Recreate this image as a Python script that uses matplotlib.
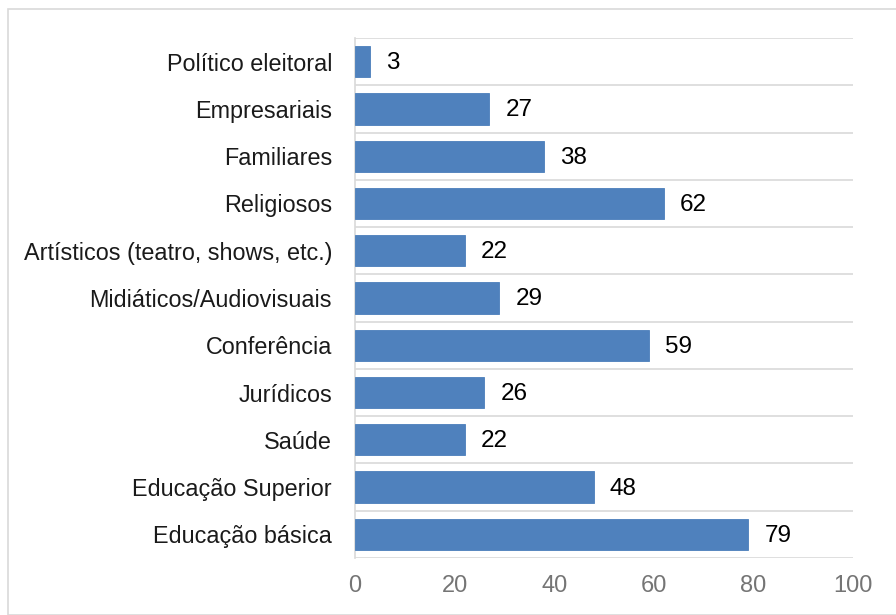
import matplotlib.pyplot as plt
from matplotlib.patches import Rectangle

categories = ['Político eleitoral', 'Empresariais', 'Familiares', 'Religiosos',
              'Artísticos (teatro, shows, etc.)', 'Midiáticos/Audiovisuais',
              'Conferência', 'Jurídicos', 'Saúde', 'Educação Superior',
              'Educação básica']
values = [3, 27, 38, 62, 22, 29, 59, 26, 22, 48, 79]
xticks = [0, 20, 40, 60, 80, 100]

plt.rcParams['font.family'] = ['Liberation Sans', 'DejaVu Sans']

fig = plt.figure(figsize=(8.96, 6.15), dpi=100)
ax = fig.add_axes([355 / 896, 1 - 558 / 615, (853 - 355) / 896, (558 - 38) / 615])

n = len(categories)
pos = list(range(n))[::-1]
ax.barh(pos, values, height=0.66, color='#4F81BD', edgecolor='#4A7EBB', linewidth=0.6, zorder=3)

for p, v in zip(pos, values):
    ax.text(v + 3.2, p - 0.03, str(v), va='center', ha='left', fontsize=17.5, color='black')

ax.set_xlim(0, 100)
ax.set_ylim(-0.5, n - 0.5)
ax.set_yticks(pos)
ax.set_yticklabels(categories, fontsize=16.8, color='#1a1a1a')
ax.set_xticks(xticks)
ax.set_xticklabels([str(t) for t in xticks], fontsize=17, color='#757575')
ax.tick_params(axis='both', length=0)
ax.tick_params(axis='y', pad=16.5)
ax.tick_params(axis='x', pad=12)

# horizontal lines between categories
for k in range(n + 1):
    ax.axhline(k - 0.5, color='#d9d9d9', linewidth=1.2, zorder=1)

for s in ['top', 'right', 'bottom']:
    ax.spines[s].set_visible(False)
ax.spines['left'].set_color('#d9d9d9')
ax.spines['left'].set_linewidth(1.2)

# outer frame
fig.patches.append(Rectangle((8 / 896, 0), 1, 1 - 9 / 615, transform=fig.transFigure,
                             fill=False, edgecolor='#d9d9d9', linewidth=1.2))

fig.savefig('out.png', dpi=100)
